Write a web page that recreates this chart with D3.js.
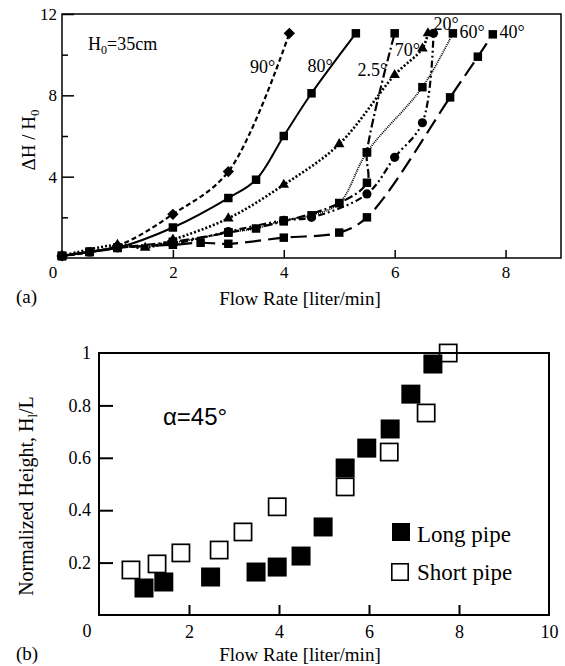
<!DOCTYPE html>
<html lang="en">
<head>
<meta charset="UTF-8">
<title>Flow rate vs head</title>
<script src="https://d3js.org/d3.v7.min.js"></script>
<style>
  body { margin: 0; background: #fff; }
  svg { display: block; }
  text { font-family: "Liberation Serif", "Times New Roman", Times, "DejaVu Serif", serif; fill: #000; }
  text.sans { font-family: "Liberation Sans", Arial, Helvetica, sans-serif; }
</style>
</head>
<body>
<script>
  // ---- panel (a): [flow rate, dH/H0] per inclination angle ----
  const a90 = [[0,0.1],[1,0.6],[2,2.15],[3,4.25],[4.1,11.05]];
  const a80 = [[0,0.1],[0.5,0.3],[1,0.5],[2,1.5],[3,2.95],[3.5,3.85],[4,6.0],[4.5,8.1],[5.3,11.05]];
  const a70 = [[0,0.1],[1,0.65],[1.5,0.5],[2,0.9],[3,1.95],[4,3.6],[5,5.6],[6,9.0],[6.5,10.3],[6.6,11.05]];
  const a60 = [[0,0.1],[0.5,0.3],[1,0.5],[2,0.75],[3,1.25],[3.5,1.45],[4,1.85],[4.5,2.1],[5,2.7],[5.5,5.2],[6.5,8.4],[7.05,11.05]];
  const a2_5 = [[0,0.1],[0.5,0.3],[1,0.5],[2,0.8],[3,1.25],[4,1.8],[5,2.7],[5.5,3.7],[5.5,5.2],[6,11.05]];
  const a20 = [[0,0.1],[0.5,0.3],[1,0.5],[2,0.7],[3,1.3],[4,1.85],[4.5,2.0],[5.5,3.15],[6,4.95],[6.5,6.65],[6.7,11.05]];
  const a40 = [[0,0.1],[0.5,0.3],[1,0.5],[2,0.65],[2.5,0.75],[3,0.7],[4,1.0],[5,1.25],[5.5,2.0],[7,7.9],[7.5,9.9],[7.77,11.0]];

  const topXTicks = [2, 4, 6, 8];
  const topYMajor = [4, 8, 12];
  const topYMinor = [2, 6, 10];

  // angle labels: [text, x, y] in data units
  const angleLabels = [["90°",3.39,9.1],["80°",4.43,9.16],["2.5°",5.33,8.95],["70°",6.0,9.95],
                       ["20°",6.7,11.23],["60°",7.17,10.84],["40°",7.89,10.84]];

  // ---- panel (b): [flow rate, normalized height] ----
  const longPipe = [[1.0,0.103],[1.44,0.126],[2.48,0.145],[3.49,0.164],[3.96,0.183],[4.49,0.225],
                    [4.98,0.336],[5.47,0.561],[5.95,0.637],[6.47,0.71],[6.93,0.843],[7.42,0.958]];
  const shortPipe = [[0.71,0.172],[1.29,0.195],[1.82,0.237],[2.67,0.248],[3.2,0.317],[3.96,0.413],
                     [5.47,0.489],[6.45,0.622],[7.27,0.771],[7.76,1.0]];

  const botXTicks = [2, 4, 6, 8, 10];
  const botYTicks = [0.2, 0.4, 0.6, 0.8, 1];

  const svg = d3.select("body").append("svg")
    .attr("width", 565)
    .attr("height", 666);

  // ================= panel (a) =================
  const x1 = d3.scaleLinear().domain([0, 9]).range([62, 561]);
  const y1 = d3.scaleLinear().domain([0, 12]).range([258, 14]);

  const series = [
    { data: a90,  sym: "diamond",  dash: "5,3",          w: 2.2 },
    { data: a80,  sym: "square",   dash: null,           w: 2 },
    { data: a70,  sym: "triangle", dash: "2,2",          w: 2.6 },
    { data: a60,  sym: "square",   dash: "1,1",          w: 1.8 },
    { data: a2_5, sym: "square",   dash: "9,3,2,3",      w: 2.2 },
    { data: a20,  sym: "circle",   dash: "7,3,2,3,2,3",  w: 2.2 },
    { data: a40,  sym: "square",   dash: "16,7",         w: 2.2 }
  ];

  const line = d3.line()
    .x(d => x1(d[0]))
    .y(d => y1(d[1]))
    .curve(d3.curveCatmullRom.alpha(0.5));

  series.forEach(s => {
    svg.append("path")
      .attr("d", line(s.data))
      .attr("fill", "none")
      .attr("stroke", "#000")
      .attr("stroke-width", s.w)
      .attr("stroke-dasharray", s.dash);
  });

  const symType = { square: d3.symbolSquare, diamond: d3.symbolSquare, triangle: d3.symbolTriangle, circle: d3.symbolCircle };
  const symSize = { square: 72, diamond: 64, triangle: 48, circle: 66 };

  series.forEach(s => {
    svg.append("g").selectAll("path")
      .data(s.data)
      .enter().append("path")
      .attr("d", d3.symbol().type(symType[s.sym]).size(symSize[s.sym]))
      .attr("transform", d => `translate(${x1(d[0])},${y1(d[1])})` + (s.sym === "diamond" ? " rotate(45)" : ""))
      .attr("fill", "#000");
  });

  // frame
  svg.append("rect")
    .attr("x", x1(0)).attr("y", y1(12))
    .attr("width", x1(9) - x1(0)).attr("height", y1(0) - y1(12))
    .attr("fill", "none").attr("stroke", "#000").attr("stroke-width", 1.5);

  const xa1 = svg.append("g")
    .attr("transform", `translate(0,${y1(0)})`)
    .call(d3.axisBottom(x1).tickValues(topXTicks).tickSizeInner(-8).tickSizeOuter(0).tickPadding(8).tickFormat(d3.format("d")));
  const ya1 = svg.append("g")
    .attr("transform", `translate(${x1(0)},0)`)
    .call(d3.axisLeft(y1).tickValues(topYMajor).tickSizeInner(-12).tickSizeOuter(0).tickPadding(5).tickFormat(d3.format("d")));
  const ym1 = svg.append("g")
    .attr("transform", `translate(${x1(0)},0)`)
    .call(d3.axisLeft(y1).tickValues(topYMinor).tickSizeInner(-6).tickSizeOuter(0).tickFormat(""));
  [xa1, ya1, ym1].forEach(g => {
    g.attr("font-family", null);
    g.select(".domain").remove();
    g.selectAll("line").attr("stroke-width", 1.5);
    g.selectAll("text").attr("font-size", 17);
  });

  svg.append("text").attr("x", x1(0) - 9).attr("y", 278)
    .attr("text-anchor", "middle").attr("font-size", 17).text("0");

  angleLabels.forEach(l => {
    svg.append("text").attr("x", x1(l[1])).attr("y", y1(l[2]))
      .attr("font-size", 18).text(l[0]);
  });

  const h0 = svg.append("text").attr("x", x1(0.47)).attr("y", y1(10.25)).attr("font-size", 18);
  h0.append("tspan").text("H");
  h0.append("tspan").attr("font-size", 12).attr("dy", 4).text("0");
  h0.append("tspan").attr("dy", -4).text("=35cm");

  const yl1 = svg.append("text")
    .attr("transform", "translate(35,140) rotate(-90)")
    .attr("text-anchor", "middle").attr("font-size", 19);
  yl1.append("tspan").text("ΔH / H");
  yl1.append("tspan").attr("font-size", 13).attr("dy", 4).text("0");

  svg.append("text").attr("x", 300).attr("y", 305)
    .attr("text-anchor", "middle").attr("font-size", 19).text("Flow Rate [liter/min]");
  svg.append("text").attr("x", 16).attr("y", 303).attr("font-size", 19).text("(a)");

  // ================= panel (b) =================
  const x2 = d3.scaleLinear().domain([0, 10]).range([99, 549]);
  const y2 = d3.scaleLinear().domain([0, 1]).range([615, 353]);

  svg.append("rect")
    .attr("x", x2(0)).attr("y", y2(1))
    .attr("width", x2(10) - x2(0)).attr("height", y2(0) - y2(1))
    .attr("fill", "none").attr("stroke", "#000").attr("stroke-width", 2);

  const xa2 = svg.append("g")
    .attr("transform", `translate(0,${y2(0)})`)
    .call(d3.axisBottom(x2).tickValues(botXTicks).tickSizeInner(-10).tickSizeOuter(0).tickPadding(10).tickFormat(d3.format("d")));
  const ya2 = svg.append("g")
    .attr("transform", `translate(${x2(0)},0)`)
    .call(d3.axisLeft(y2).tickValues(botYTicks).tickSizeInner(-14).tickSizeOuter(0).tickPadding(8)
      .tickFormat(d => d === 1 ? "1" : d3.format(".1f")(d)));
  [xa2, ya2].forEach(g => {
    g.attr("font-family", null);
    g.select(".domain").remove();
    g.selectAll("line").attr("stroke-width", 2);
    g.selectAll("text").attr("font-size", 18);
  });
  xa2.selectAll(".tick").filter(d => d === 10).select("line").remove();
  ya2.selectAll(".tick").filter(d => d === 1).select("line").remove();

  svg.append("text").attr("x", x2(0) - 12).attr("y", 637)
    .attr("text-anchor", "middle").attr("font-size", 18).text("0");

  svg.append("g").selectAll("rect")
    .data(shortPipe)
    .enter().append("rect")
    .attr("x", d => x2(d[0]) - 8.6).attr("y", d => y2(d[1]) - 8.6)
    .attr("width", 17.2).attr("height", 17.2)
    .attr("fill", "none").attr("stroke", "#000").attr("stroke-width", 1.7);

  svg.append("g").selectAll("rect")
    .data(longPipe)
    .enter().append("rect")
    .attr("x", d => x2(d[0]) - 9.5).attr("y", d => y2(d[1]) - 9.5)
    .attr("width", 19).attr("height", 19)
    .attr("fill", "#000");

  // legend
  svg.append("rect").attr("x", 392).attr("y", 523).attr("width", 18).attr("height", 18).attr("fill", "#000");
  svg.append("rect").attr("x", 391.8).attr("y", 563.8).attr("width", 16.4).attr("height", 16.4)
    .attr("fill", "none").attr("stroke", "#000").attr("stroke-width", 1.6);
  svg.append("text").attr("x", 417).attr("y", 542).attr("font-size", 23).text("Long pipe");
  svg.append("text").attr("x", 417).attr("y", 580).attr("font-size", 23).text("Short pipe");

  svg.append("text").attr("class", "sans").attr("x", x2(1.42)).attr("y", 425)
    .attr("font-size", 24).text("α=45°");

  const yl2 = svg.append("text")
    .attr("transform", "translate(33,496) rotate(-90)")
    .attr("text-anchor", "middle").attr("font-size", 20);
  yl2.append("tspan").text("Normalized Height, H");
  yl2.append("tspan").attr("font-size", 13).attr("dy", 4).text("l");
  yl2.append("tspan").attr("dy", -4).text("/L");

  svg.append("text").attr("x", 300).attr("y", 661)
    .attr("text-anchor", "middle").attr("font-size", 19).text("Flow Rate [liter/min]");
  svg.append("text").attr("x", 16).attr("y", 660).attr("font-size", 19).text("(b)");
</script>
</body>
</html>
